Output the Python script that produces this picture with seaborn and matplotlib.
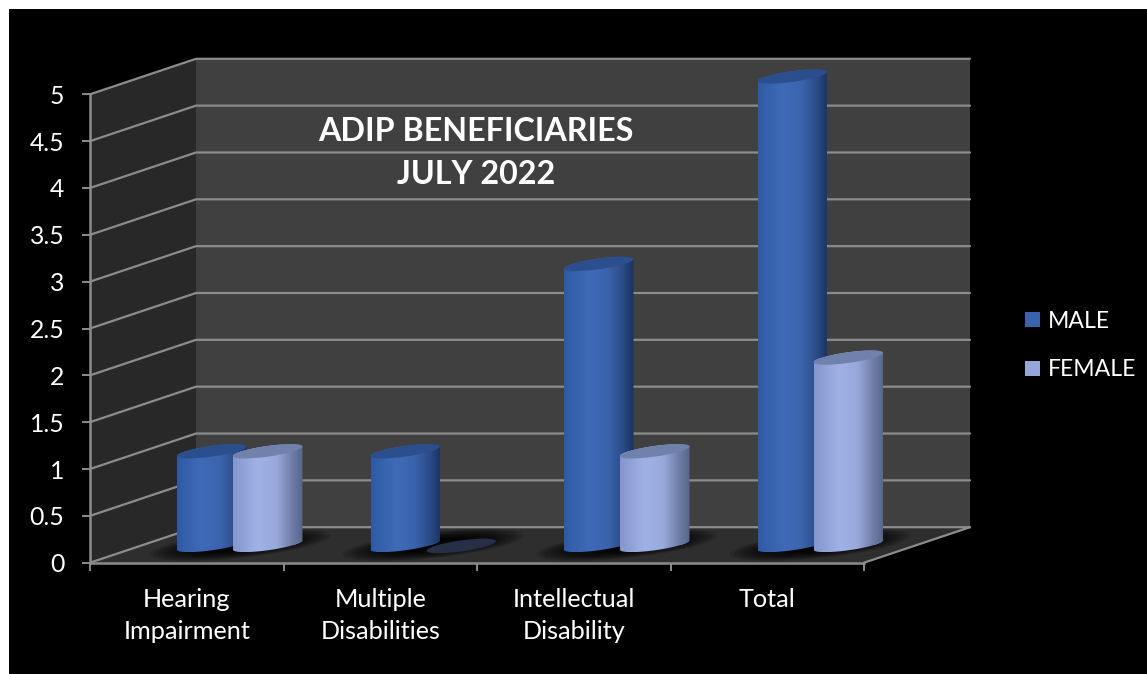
import numpy as np
import pandas as pd
import matplotlib
matplotlib.use("Agg")
import matplotlib.pyplot as plt
import seaborn as sns
from matplotlib.patches import Rectangle, Polygon, Ellipse
from matplotlib.transforms import Affine2D, IdentityTransform
from matplotlib.colors import to_rgb

categories = ["Hearing\nImpairment", "Multiple\nDisabilities", "Intellectual\nDisability", "Total"]
male = [1, 1, 3, 5]
female = [1, 0, 1, 2]
series_names = ["MALE", "FEMALE"]
y_ticks = [0, 0.5, 1, 1.5, 2, 2.5, 3, 3.5, 4, 4.5, 5]
y_labels = ["0", "0.5", "1", "1.5", "2", "2.5", "3", "3.5", "4", "4.5", "5"]
title_text = "ADIP BENEFICIARIES\nJULY 2022"

W, H = 1147, 674
DX, DY = 106.0, 35.5            # depth of the box, in pixels
GRID = "#8c8c8c"

sns.set_style("white")
plt.rcParams["font.family"] = ["Lato", "DejaVu Sans"]

df = pd.DataFrame({
    "category": categories * 2,
    "value": male + female,
    "series": [series_names[0]] * 4 + [series_names[1]] * 4,
})

fig = plt.figure(figsize=(W / 100, H / 100), dpi=100, facecolor="white")
fig.add_artist(Rectangle((9 / W, 0), 1 - 9 / W, 1 - 9 / H, transform=fig.transFigure,
                         fc="black", ec="none", zorder=-5))
ax = fig.add_axes([90 / W, (H - 562.7) / H, 774 / W, 468.4 / H])
ax.patch.set_alpha(0)

sns.barplot(data=df, x="category", y="value", hue="series", order=categories,
            hue_order=series_names, palette=["#3A62AB", "#94A6D8"],
            width=0.579, gap=-0.24, ax=ax, saturation=1, legend=True, linewidth=0)

ax.set_xlim(-0.5, 3.5)
ax.set_ylim(0, 5)
ax.set_xlabel("")
ax.set_ylabel("")
ax.set_yticks(y_ticks, y_labels)
ax.set_xticks(range(4), categories, linespacing=1.46)
ax.set_xticks([-0.5, 0.5, 1.5, 2.5, 3.5], minor=True)
ax.tick_params(axis="x", which="major", length=0, pad=18.2, labelsize=18.2, labelcolor="white")
ax.tick_params(axis="x", which="minor", length=6, width=1.4, color=GRID, bottom=True)
ax.tick_params(axis="y", length=6, width=1.4, color=GRID, pad=12.5, labelsize=17.8,
               labelcolor="white", left=True)
for side in ("top", "right"):
    ax.spines[side].set_visible(False)
for side in ("left", "bottom"):
    ax.spines[side].set_color(GRID)
    ax.spines[side].set_linewidth(1.8)
    ax.spines[side].set_zorder(20)
ax.grid(False)


def project(x, y, depth=0.0):
    p = ax.transData.transform((x, y))
    return p[0] + depth * DX, p[1] + depth * DY


disp = IdentityTransform()
# back wall, side wall and floor of the box
back = [project(-0.5, 0, 1), project(3.5, 0, 1), project(3.5, 5, 1), project(-0.5, 5, 1)]
side = [project(-0.5, 0, 0), project(-0.5, 0, 1), project(-0.5, 5, 1), project(-0.5, 5, 0)]
floor = [project(-0.5, 0, 0), project(3.5, 0, 0), project(3.5, 0, 1), project(-0.5, 0, 1)]
for pts, col in ((back, "#404040"), (side, "#282828"), (floor, "#2e2e2e")):
    ax.add_patch(Polygon(pts, closed=True, fc=col, ec="none", transform=disp,
                         clip_on=False, zorder=0.5))
for v in y_ticks:
    a, b, c = project(-0.5, v, 0), project(-0.5, v, 1), project(3.5, v, 1)
    ax.plot([a[0], b[0], c[0]], [a[1], b[1], c[1]], color=GRID, lw=1.6, transform=disp,
            clip_on=False, zorder=1, solid_joinstyle="miter")
a, b = project(3.5, 0, 0), project(3.5, 0, 1)
ax.plot([a[0], b[0]], [a[1], b[1]], color=GRID, lw=1.6, transform=disp, clip_on=False, zorder=1)

# soft shadows on the floor, one per category group
for i in range(4):
    cx, cy = project(i, 0, 0.5)
    for k in np.linspace(1.0, 0.35, 14):
        ax.add_patch(Ellipse((cx, cy), 182 * k, 26 * k, angle=6, fc="black", ec="none",
                             alpha=0.13, transform=disp, clip_on=False, zorder=1.5))


def ramp(stops, n=160):
    pos = [s[0] for s in stops]
    rgb = np.array([to_rgb(s[1]) for s in stops])
    xs = np.linspace(0, 1, n)
    return np.stack([np.interp(xs, pos, rgb[:, c]) for c in range(3)], axis=-1)[None, :, :]


ramps = [
    ramp([(0, "#2f5aa3"), (.35, "#3f6ab8"), (.62, "#3b64ad"), (.85, "#2a4b87"), (1, "#1b3260")]),
    ramp([(0, "#8596cc"), (.35, "#9fb1e6"), (.62, "#99a9dc"), (.85, "#6f7da6"), (1, "#56658a")]),
]
tops = ["#2b4f8e", "#7082ac"]
zero_col = "#262f45"
TILT = np.radians(8)
MINOR = 5.3


def ell_pts(cx, cy, a, b, t):
    return np.column_stack([cx + a * np.cos(t) * np.cos(TILT) - b * np.sin(t) * np.sin(TILT),
                            cy + a * np.cos(t) * np.sin(TILT) + b * np.sin(t) * np.cos(TILT)])


shift = Affine2D().translate(DX / 2, DY / 2)
for s, cont in enumerate(ax.containers):
    for j, bar in enumerate(cont.patches):
        bar.set_transform(ax.transData + shift)
        bar.set_zorder(3 + s * 2)
        x, w, h = bar.get_x(), bar.get_width(), bar.get_height()
        x0, y0 = (ax.transData + shift).transform((x + w / 2, 0))
        x1, y1 = (ax.transData + shift).transform((x + w / 2, h))
        hw = (ax.transData + shift).transform((x + w, 0))[0] - x0
        a = hw / np.cos(TILT)
        ang = np.degrees(TILT)
        if h == 0:
            bar.set_clip_on(False)
            ax.add_patch(Ellipse((x0, y0 - 1), 2 * a, 2 * MINOR + 0.5, angle=ang, fc=zero_col,
                                 ec="none", transform=disp, clip_on=False, zorder=4 + s * 2))
            continue
        tr = np.arctan2(-MINOR * np.sin(TILT), a * np.cos(TILT))
        low = ell_pts(x0, y0, a, MINOR, np.linspace(tr + np.pi, tr + 2 * np.pi, 60))
        up = ell_pts(x1, y1, a, MINOR, np.linspace(tr, tr + np.pi, 60))
        body = Polygon(np.vstack([low, up]), closed=True, transform=disp, fc="none", ec="none")
        ax.add_patch(body)
        body.set_clip_on(False)
        bot, top = low[:, 1].min(), up[:, 1].max()
        im = ax.imshow(ramps[s], extent=(x0 - hw, x0 + hw, bot, top), aspect="auto",
                       transform=disp, interpolation="bilinear", zorder=4 + s * 2)
        im.set_clip_box(fig.bbox)
        im.set_clip_path(body)
        ax.add_patch(Ellipse((x1, y1), 2 * a, 2 * MINOR, angle=ang, fc=tops[s], ec="none",
                             transform=disp, clip_on=False, zorder=4.5 + s * 2))
        # the rectangular bar stays under the rounded body
        bar.set_clip_box(fig.bbox)
        bar.set_clip_path(body)

ax.set_xlim(-0.5, 3.5)
ax.set_ylim(0, 5)

sns.move_legend(ax, loc="center left", bbox_to_anchor=(1025 / W, (H - 345.5) / H),
                bbox_transform=fig.transFigure, frameon=False, title=None, fontsize=16.6,
                labelcolor="white", handlelength=0.65, handleheight=0.65,
                labelspacing=1.2, handletextpad=0.35, borderaxespad=0, borderpad=0)

fig.text(476 / W, (H - 153) / H, title_text, ha="center", va="center", color="white",
         fontsize=23.2, fontweight="bold", linespacing=1.57, zorder=30)

fig.savefig("out.png", dpi=100, facecolor=fig.get_facecolor())
